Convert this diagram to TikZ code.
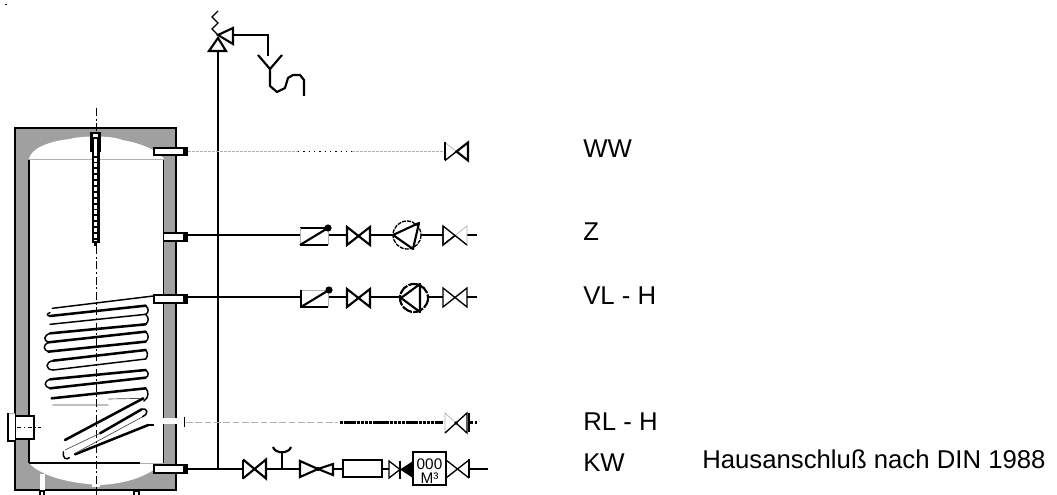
\documentclass[tikz,border=0pt]{standalone}
\usepackage{fontspec}
\setmainfont{Liberation Sans}
\definecolor{wallgrey}{RGB}{160,160,160}
\definecolor{thing}{RGB}{175,175,175}
\tikzset{
  pipe/.style={line width=1.6pt,black,line join=miter},
  thinpipe/.style={line width=1pt,black},
  faint/.style={line width=0.5pt,thing},
  lab/.style={anchor=base west,inner sep=0pt,font=\fontsize{19.3}{22}\selectfont},
  meterlab/.style={inner sep=0pt,font=\fontsize{11.5}{12}\selectfont},
  coil/.style={line width=1.1pt,black,line cap=round},
  coilb/.style={line width=1.9pt,black,line cap=round},
  coilf/.style={line width=0.5pt,black!70},
  stub/.style={fill=white,draw=black,line width=0.8pt},
}
% x-left, x-right, y-centre, half-height, left style, right style
\newcommand{\valvesym}[6]{%
  \draw[#5] ({(#1+#2)/2},#3) -- (#1,#3-#4) -- (#1,#3+#4) -- cycle;
  \draw[#6] ({(#1+#2)/2},#3) -- (#2,#3-#4) -- (#2,#3+#4) -- cycle;}
\begin{document}
\begin{tikzpicture}[x=0.75pt,y=-0.75pt]
\useasboundingbox (0,0) rectangle (1057,495);
\fill[black] (5,4) rectangle (6.5,5.5);

% tank body
\fill[wallgrey] (15,128) rectangle (176,490);
\draw[line width=1.4pt] (15,128) -- (176,128) -- (176,490) -- (15,490) -- cycle;
% interior with domes
\fill[white] (29,159) .. controls (31,148) and (50,141) .. (70,139)
  .. controls (78,136) and (112,135) .. (122,140)
  .. controls (140,143) and (158,150) .. (164,159) -- (164,463)
  -- (164,463) .. controls (150,473) and (135,483) .. (100,485)
  .. controls (65,483) and (40,475) .. (29,463) -- cycle;
\draw[line width=1.3pt] (29,160) -- (29,463);
\draw[line width=1.3pt] (163.5,160) -- (163.5,463);
\draw[line width=0.6pt,thing] (29,159) -- (164,159);
\draw[line width=0.8pt] (29,463) -- (140,463);
\draw[line width=0.6pt,thing] (140,463) -- (164,463);
% bottom details
\fill[white] (40,474) rectangle (45,490);
\fill[white] (92,483) rectangle (100,487);
\draw[line width=1.2pt] (40,495) -- (40,491) -- (44,491) -- (44,495);
\draw[line width=1.2pt] (134,495) -- (134,491) -- (139,491) -- (139,495);

% left flange
\fill[white] (8,413) rectangle (15,441);
\draw[line width=0.6pt,thing] (8,413) -- (15,413);
\draw[line width=1.2pt] (8,413) -- (8,441) -- (15,441);
\fill[white] (16,416) rectangle (34,439);
\draw[line width=1.2pt] (16,416) -- (34,416) -- (34,439) -- (16,439);

% axis
\draw[line width=0.8pt,dash pattern=on 6pt off 2pt on 1.5pt off 2pt] (96.7,108) -- (96.7,495);
\draw[line width=0.5pt,dash pattern=on 3pt off 2pt on 1pt off 2pt] (17,427) -- (41,427);

% thermometer
\fill[black] (91.5,132) rectangle (99.5,243);
\fill[black] (94,243) rectangle (97,246);
\draw[white,line width=1.9pt,dash pattern=on 3pt off 1.4pt] (95.3,140) -- (95.3,240);
\fill[black] (89.5,132) rectangle (100.5,152);
\fill[white] (93,134) rectangle (98,137.5);
\fill[white] (94,139.5) rectangle (97,152);

% coil (coordinates in 3x zoom units)
\begin{scope}[shift={(0,290)},scale=1/3]
  \draw[coil] (157,55) -- (460,18);
  \draw[coilb] (150,78) -- (437,47);
  \draw[coil] (150,103) -- (437,73);
  \draw[coilb] (150,130) -- (437,103);
  \draw[coilb] (145,157) -- (437,125);
  \draw[coilb] (145,185) -- (437,155);
  \draw[coilb] (160,212) -- (437,180);
  \draw[coil] (160,240) -- (437,207);
  \draw[coilb] (150,268) -- (437,240);
  \draw[coilb] (150,295) -- (437,263);
  \draw[coilb] (155,325) -- (437,295);
  \draw[coilf] (157,345) -- (325,345) (325,327) -- (430,325);
  % right bends
  \draw[coil] (437,47) .. controls (447,55) and (447,68) .. (437,73)
              (437,73) .. controls (447,82) and (447,95) .. (437,103)
              (437,125) .. controls (447,133) and (447,148) .. (437,155)
              (437,180) .. controls (444,187) and (444,200) .. (437,207)
              (437,240) .. controls (447,247) and (447,258) .. (437,263)
              (437,295) .. controls (447,305) and (447,322) .. (432,333);
  % left bends
  \draw[coil] (150,68) .. controls (137,72) and (142,78) .. (150,78)
              (150,130) .. controls (130,138) and (130,150) .. (145,157)
              (145,157) .. controls (128,165) and (130,180) .. (145,185)
              (160,212) .. controls (135,215) and (135,240) .. (160,240)
              (150,268) .. controls (130,275) and (132,290) .. (150,295);
  % lower coil
  \draw[coilb] (195,450) -- (430,325);
  \draw[coilb] (225,493) -- (445,405);
  \draw[coilb] (300,430) -- (425,358);
  \draw[coilf] (195,480) -- (300,430);
  \draw[coilf] (225,490) -- (432,378);
  \draw[coil] (425,358) .. controls (445,352) and (445,375) .. (428,380);
  \draw[coil] (190,485) .. controls (188,508) and (200,510) .. (208,503);
  \fill (448,402) rectangle (462,407);
\end{scope}

% connection stubs
\draw[stub] (154,148) rectangle (184,155);
\fill (184,147) rectangle (188,156);
\draw[stub] (163.5,233) rectangle (184,241);
\fill (184,232) rectangle (188,242);
\draw[stub] (154,295) rectangle (184,303);
\fill (184,294) rectangle (188,304);
\draw[stub] (154,465) rectangle (184,473);
\fill (184,464) rectangle (188,474);
\fill[white] (160,418) rectangle (177,424);
\fill (183.5,417) rectangle (185,427);

% riser and safety group
\draw[pipe] (218,51) -- (218,470);
\draw[pipe,fill=white] (218,38) -- (209,51) -- (226,51) -- cycle;
\draw[pipe,fill=white] (218,35) -- (233,28) -- (233,44) -- cycle;
\draw[thinpipe] (218,11) -- (212,17) -- (218,23) -- (212,29) -- (218,35);
\draw[pipe] (233,35) -- (268,35) -- (268,56);
\draw[pipe] (258,55) -- (270,69) -- (282,55);
\draw[pipe,line join=round] (270,69) -- (270,86) -- (277,92) -- (285,88) -- (288,78) -- (293,75) -- (300,75) -- (304,80) -- (304,96);

% WW
\draw[faint,dash pattern=on 2pt off 1pt] (188,151) -- (298,151);
\draw[line width=0.7pt,black,dash pattern=on 1pt off 3pt] (298,151) -- (352,151);
\draw[faint,dash pattern=on 2pt off 1pt] (352,151) -- (445,151);
\valvesym{445}{468}{151.5}{9}{faint}{pipe}
\draw[pipe] (445,142.5) -- (445,160.5);
\draw[thinpipe] (445,160.5) -- (456.5,151.5);

% Z
\draw[pipe] (188,235) -- (300,235) (328,235) -- (347,235) (370,235) -- (393,235) (421,235) -- (443,235) (467,235) -- (477,235);
\draw[pipe] (300,228) -- (328,228) (300,245) -- (328,245);
\draw[faint] (300,228) -- (300,245) (328,228) -- (328,245);
\draw[pipe] (300,245) -- (328,228);
\fill (328,228) circle (3.6);
\valvesym{347}{370}{236}{9}{pipe}{pipe}
\draw[thinpipe,dash pattern=on 3pt off 0.8pt] (407,235) circle (14);
\draw[pipe,line join=round] (393,235) -- (419,223) -- (413,249) -- cycle;
\valvesym{443}{467}{235.5}{9.5}{thinpipe}{faint}
\draw[thinpipe] (455,235.5) -- (443,245) -- (443,226) (455,235.5) -- (467,245);

% VL
\draw[pipe] (188,297) -- (301,297) (328,297) -- (347,297) (370,297) -- (401,297) (428,297) -- (443,297) (467,297) -- (477,297);
\draw[faint] (301,290) -- (328,290) -- (328,307);
\draw[pipe] (301,290) -- (301,307) -- (328,307);
\draw[pipe] (301,307) -- (329,290);
\fill (329,290) circle (3.6);
\valvesym{347}{370}{298}{9}{pipe}{pipe}
\draw[pipe,dash pattern=on 8pt off 1pt] (414,298) circle (14);
\draw[pipe,line join=round] (401,298) -- (420,284) -- (420,312) -- cycle;
\valvesym{443}{467}{297.5}{9.5}{thinpipe}{thinpipe}

% RL
\draw[faint,dash pattern=on 5pt off 2pt] (186,422) -- (338,422);
\draw[line width=1.6pt,dash pattern=on 2.6pt off 0.5pt] (340,422.5) -- (443,422.5);
\valvesym{445}{467}{423}{10}{faint}{thinpipe}
\draw[thinpipe] (445,433) -- (456,423);
\fill (456,423) circle (1.8);
\draw[line width=1.6pt,dash pattern=on 2.6pt off 1pt] (470,422.5) -- (477,422.5);
\fill (468,413) rectangle (469.5,432);

% KW
\draw[pipe] (188,469) -- (243,469) (266,469) -- (300,469) (333,469) -- (343,469) (382,469) -- (389,469) (469,469) -- (488,469);
\draw[pipe] (243,459.5) -- (266,478.5) -- (266,459.5) -- (243,478.5);
\draw[thinpipe] (243,459.5) -- (243,478.5);
\draw[pipe] (282,469) -- (282,452);
\draw[pipe] (273,447) .. controls (275,454) and (289,454) .. (291,447);
\draw[pipe] (318,469) -- (300,461) -- (300,477) -- cycle;
\draw[pipe] (318,469) -- (333,464) -- (333,475) -- cycle;
\fill (318,469) circle (2);
\draw[pipe,fill=white] (343,460) rectangle (382,477);
\draw[thinpipe] (400,469.5) -- (389,461) -- (389,478) -- cycle;
\draw[pipe] (400,460.5) -- (400,478.5);
\fill (400,469.5) -- (413,461) -- (413,478) -- cycle;
\draw[pipe,fill=white] (413,452) rectangle (446,485);
\node[meterlab] (count) at (429.5,464.5) {000};
\node[meterlab] (unit) at (429.5,478) {M³};
\draw[thinpipe] (446,460) -- (469,478) (446,478) -- (469,460);
\draw[pipe] (469,459) -- (469,478);

% labels
\node[lab] (ww) at (583,158) {WW};
\node[lab] (z) at (583,241) {Z};
\node[lab] (vl) at (583,305) {VL - H};
\node[lab] (rl) at (583,430) {RL - H};
\node[lab] (kw) at (583,471) {KW};
\node[lab] (ha) at (702,468) {Hausanschluß nach DIN 1988};
\end{tikzpicture}
\end{document}
